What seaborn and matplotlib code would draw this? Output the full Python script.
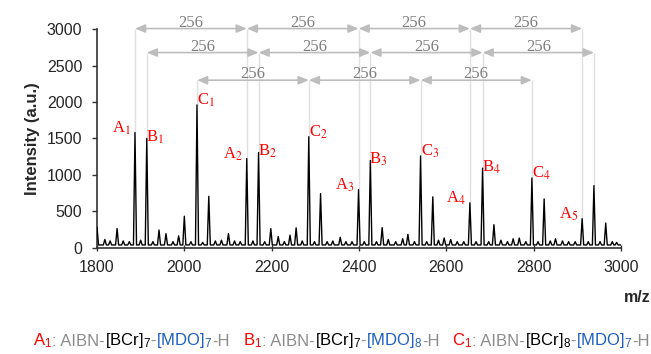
import matplotlib
matplotlib.use("Agg")
import matplotlib.pyplot as plt
import seaborn as sns
import numpy as np
import pandas as pd
from matplotlib.offsetbox import TextArea, HPacker, AnnotationBbox

# ---------------- data ----------------
A_mz = [1887, 2143, 2399, 2654, 2911]
A_int = [1580, 1222, 795, 614, 396]
B_mz = [1914, 2170, 2426, 2683, 2938]
B_int = [1500, 1305, 1195, 1091, 850]
C_mz = [2029, 2285, 2541, 2796]
C_int = [1960, 1523, 1259, 955]
# satellite peaks (C + 28, B5 + 27)
S_mz = [2056, 2312, 2569, 2824, 2965]
S_int = [704, 741, 696, 668, 336]
# minor peaks
M_mz = [1818, 1830, 1846, 1860, 1874, 1900, 1928, 1942, 1958, 1974, 1987, 2000,
        2015, 2042, 2071, 2085, 2101, 2115, 2128, 2157, 2184, 2198, 2215, 2229,
        2242, 2256, 2270, 2298, 2327, 2340, 2357, 2370, 2384, 2412, 2440, 2453,
        2467, 2484, 2500, 2512, 2527, 2555, 2582, 2595, 2610, 2625, 2640, 2668,
        2697, 2709, 2725, 2740, 2753, 2767, 2782, 2810, 2838, 2850, 2866, 2880,
        2895, 2925, 2952, 2980, 2990]
M_int = [110, 90, 260, 90, 80, 100, 80, 240, 190, 80, 160, 430,
         80, 70, 90, 100, 190, 90, 80, 90, 80, 260, 150, 80,
         170, 270, 90, 80, 80, 90, 140, 80, 80, 80, 80, 273,
         110, 80, 120, 180, 80, 80, 100, 130, 110, 80, 80, 80,
         80, 314, 100, 80, 120, 130, 80, 80, 90, 120, 90, 80,
         80, 80, 80, 80, 70]
start_mz, start_int = 1800, 280
baseline_int = 35
spacing_label = "256"

yticks = [0, 500, 1000, 1500, 2000, 2500, 3000]
xticks = [1800, 2000, 2200, 2400, 2600, 2800, 3000]

legend_groups = [
    [("A$_1$", "red"), (": AIBN-", "#8c8c8c"), ("[BCr]$_7$", "black"), ("-", "#8c8c8c"),
     ("[MDO]$_7$", "#1f5fbf"), ("-H", "#8c8c8c")],
    [("B$_1$", "red"), (": AIBN-", "#8c8c8c"), ("[BCr]$_7$", "black"), ("-", "#8c8c8c"),
     ("[MDO]$_8$", "#1f5fbf"), ("-H", "#8c8c8c")],
    [("C$_1$", "red"), (": AIBN-", "#8c8c8c"), ("[BCr]$_8$", "black"), ("-", "#8c8c8c"),
     ("[MDO]$_7$", "#1f5fbf"), ("-H", "#8c8c8c")],
]

# ---------------- spectrum profile from peak list ----------------
peaks = sorted(zip(A_mz + B_mz + C_mz + S_mz + M_mz, A_int + B_int + C_int + S_int + M_int))
hw = 3.5
xs = [start_mz, start_mz + hw]
ys = [start_int, baseline_int]
for mz, it in peaks:
    xs += [mz - hw, mz, mz + hw]
    ys += [baseline_int, it, baseline_int]
xs.append(3000)
ys.append(baseline_int)
spec = pd.DataFrame({"mz": xs, "intensity": ys})

# ---------------- figure ----------------
sns.set_style("white")
plt.rcParams["font.family"] = ["Liberation Sans", "DejaVu Sans"]
plt.rcParams["mathtext.fontset"] = "custom"
plt.rcParams["mathtext.rm"] = "Liberation Sans"
plt.rcParams["mathtext.it"] = "Liberation Sans:italic"
plt.rcParams["mathtext.bf"] = "Liberation Sans:bold"

fig = plt.figure(figsize=(6.51, 3.54), dpi=100)
ax = fig.add_axes([97 / 651, 1 - 247.5 / 354, (621 - 97) / 651, (247.5 - 29.3) / 354])

row_y = [3010, 2680, 2300]
rows = [(A_mz, A_int), (B_mz, B_int), (C_mz, C_int)]
for (pm, pi), ry in zip(rows, row_y):
    ax.vlines(pm, pi, ry, color="#e0e0e0", lw=1.0, zorder=0, clip_on=False)
    for j in range(len(pm) - 1):
        ax.annotate("", xy=(pm[j + 1], ry), xytext=(pm[j], ry),
                    arrowprops=dict(arrowstyle="<|-|>,head_length=0.6,head_width=0.25",
                                    color="#bdbdbd", lw=1.2, shrinkA=0, shrinkB=0),
                    annotation_clip=False, zorder=1)
        ax.annotate(spacing_label, xy=((pm[j] + pm[j + 1]) / 2, ry), xytext=(0, 2),
                    textcoords="offset pixels", ha="center", va="baseline",
                    color="#7f7f7f", fontsize=12, family="Liberation Serif",
                    annotation_clip=False)

sns.lineplot(data=spec, x="mz", y="intensity", sort=False, estimator=None,
             color="black", lw=1.0, ax=ax, zorder=3)

lab_kw = dict(textcoords="offset pixels", va="baseline", color="red", fontsize=12,
              family="Liberation Serif", math_fontfamily="stix", annotation_clip=False,
              zorder=4)
for i, (mz, it) in enumerate(zip(A_mz, A_int)):
    ax.annotate(f"A$_{{{i + 1}}}$", xy=(mz, it), xytext=(-4, 0), ha="right", **lab_kw)
for i, (mz, it) in enumerate(zip(B_mz[:4], B_int[:4])):
    ax.annotate(f"B$_{{{i + 1}}}$", xy=(mz, it), xytext=(-1, -3), ha="left", **lab_kw)
for i, (mz, it) in enumerate(zip(C_mz, C_int)):
    ax.annotate(f"C$_{{{i + 1}}}$", xy=(mz, it), xytext=(0, 0), ha="left", **lab_kw)

ax.set_xlim(1800, 3000)
ax.set_ylim(0, 3000)
ax.set_xticks(xticks)
ax.set_yticks(yticks)
ax.tick_params(axis="y", direction="out", length=3.5, width=1, color="#333333",
               labelsize=11.5, pad=7, left=True)
ax.tick_params(axis="x", direction="inout", length=4, width=1, color="#333333",
               labelsize=11.5, pad=7, bottom=True)
for s in ["top", "right"]:
    ax.spines[s].set_visible(False)
for s in ["left", "bottom"]:
    ax.spines[s].set_color("#333333")
    ax.spines[s].set_linewidth(1.2)
ax.set_xlabel("")
ax.set_ylabel("Intensity (a.u.)", fontsize=12, fontweight="bold", labelpad=5)

fig.text(637 / 651, 1 - 297 / 354, "m/z", ha="center", va="center",
         fontsize=11.5, fontweight="bold")

starts = [33, 243, 452]
for grp, sx in zip(legend_groups, starts):
    boxes = [TextArea(t, textprops=dict(color=c, fontsize=12, family="Liberation Sans"))
             for t, c in grp]
    pack = HPacker(children=boxes, align="baseline", pad=0, sep=0)
    ab = AnnotationBbox(pack, (sx / 651, 1 - 341 / 354), xycoords="figure fraction",
                        box_alignment=(0, 0.5), frameon=False, pad=0)
    fig.add_artist(ab)

fig.savefig("out.png", dpi=100)
